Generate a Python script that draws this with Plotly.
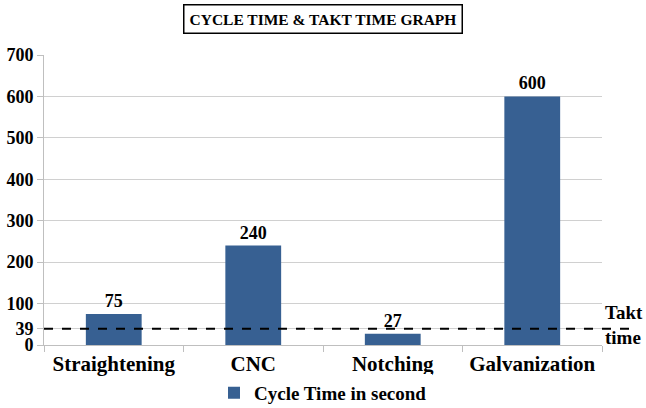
import plotly.graph_objects as go

categories = ["Straightening", "CNC", "Notching", "Galvanization"]
cycle_time = [75, 240, 27, 600]
takt_time = 39
y_ticks = [0, 39, 100, 200, 300, 400, 500, 600, 700]

font_family = "Liberation Serif, Times New Roman, serif"

fig = go.Figure()
fig.add_trace(go.Bar(
    x=categories, y=cycle_time, name="<b>Cycle Time in second</b>",
    marker=dict(color="#376092", line=dict(width=0)),
    width=0.4,
    text=[f"<b>{v}</b>" for v in cycle_time], textposition="outside",
    textfont=dict(family=font_family, size=18, color="black"),
    cliponaxis=False,
))

fig.add_shape(type="line", xref="paper", yref="y", x0=0, x1=1.058,
              y0=takt_time, y1=takt_time,
              line=dict(color="black", width=2, dash="dash"))
fig.add_annotation(xref="paper", yref="y", x=1.002, y=takt_time, xanchor="left",
                   yanchor="middle", yshift=4, text="<b>Takt</b><br><b>time</b>", showarrow=False,
                   align="left", font=dict(family=font_family, size=19, color="black"))

fig.add_annotation(xref="paper", yref="paper", x=0.5, y=1.0, yshift=36,
                   xanchor="center", yanchor="middle",
                   text="<b>CYCLE TIME & TAKT TIME GRAPH</b>",
                   showarrow=False, font=dict(family=font_family, size=15.5, color="black"),
                   bordercolor="black", borderwidth=1.5, borderpad=5, bgcolor="white")

fig.update_layout(
    width=646, height=408,
    margin=dict(l=44, r=44, t=55, b=63, autoexpand=False),
    plot_bgcolor="white", paper_bgcolor="white",
    font=dict(family=font_family, size=18, color="black"),
    showlegend=True,
    legend=dict(orientation="h", x=0.5, xanchor="center", y=-0.165, yanchor="middle",
                font=dict(family=font_family, size=19), itemwidth=30),
    xaxis=dict(showline=True, linecolor="#bfbfbf", linewidth=1, ticks="outside",
               tickson="boundaries", ticklen=6, tickcolor="#bfbfbf",
               tickfont=dict(family=font_family, size=21), tickprefix="<b>", ticksuffix="</b>"),
    yaxis=dict(range=[0, 700], tickvals=y_ticks, ticktext=[f"<b>{v}</b>" for v in y_ticks],
               showgrid=True, gridcolor="#d0d0d0", gridwidth=1,
               showline=True, linecolor="#bfbfbf", linewidth=1, ticks="outside",
               ticklen=6, tickcolor="#bfbfbf", zeroline=False,
               tickfont=dict(family=font_family, size=18)),
)

fig.write_html("out.html", config={"displayModeBar": False},
               post_script="document.body.style.margin='0';")
